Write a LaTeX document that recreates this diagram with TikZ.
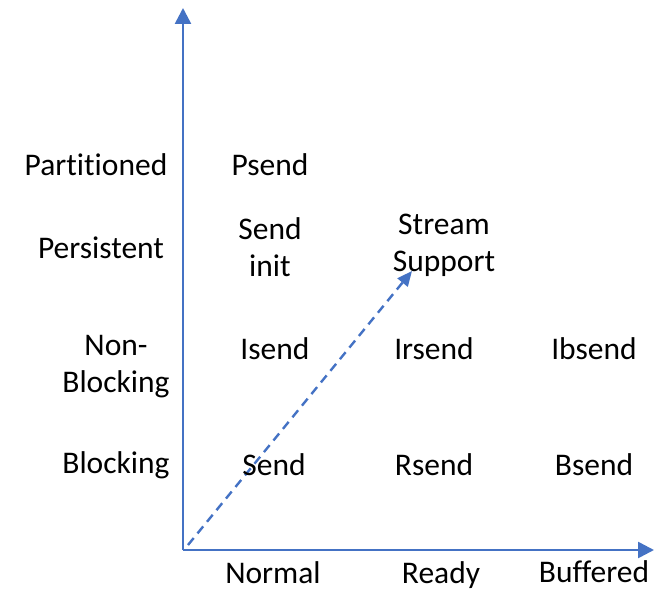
\documentclass[tikz,border=0pt]{standalone}
\usepackage{fontspec}
\setmainfont{Carlito}[Ligatures=NoCommon]
\usetikzlibrary{arrows.meta}
\definecolor{axblue}{HTML}{4472C4}
\begin{document}
\begin{tikzpicture}[x=1pt,y=-1pt,
  lbl/.style={font=\fontsize{31.5}{37}\selectfont, align=center, inner sep=0pt, text=black},
  axis/.style={axblue, line width=2.6pt, -{Triangle[length=16pt,width=16pt]}},
  diag/.style={axblue, line width=2.4pt, dashed, dash pattern=on 9pt off 6pt, -{Triangle[length=15pt,width=13pt]}}]
\useasboundingbox (0,0) rectangle (672,591);
\coordinate (O) at (183,550);
\coordinate (ytop) at (183,8);
\coordinate (xend) at (654,550);
\coordinate (dstart) at (188,545);
\coordinate (dend) at (412,271);
\draw[axis] (O) -- (ytop);
\draw[axis] (O) -- (xend);
\draw[diag] (dstart) -- (dend);
\node[lbl] (partitioned) at (96,165) {Partitioned};
\node[lbl] (persistent) at (101,248) {Persistent};
\node[lbl] (nonblocking) at (116,367) {Non-\\Blocking};
\node[lbl] (blocking) at (116,465) {Blocking};
\node[lbl] (psend) at (270,165) {Psend};
\node[lbl] (sendinit) at (270,247) {Send\\init};
\node[lbl] (stream) at (444,245) {Stream\\Support};
\node[lbl] (isend) at (275,349) {Isend};
\node[lbl] (irsend) at (434,349) {Irsend};
\node[lbl] (ibsend) at (594,349) {Ibsend};
\node[lbl] (send) at (274,465) {Send};
\node[lbl] (rsend) at (434,465) {Rsend};
\node[lbl] (bsend) at (594,465) {Bsend};
\node[lbl] (normal) at (273,573) {Normal};
\node[lbl] (ready) at (441,575) {Ready};
\node[lbl] (buffered) at (594,572) {Buffered};
\end{tikzpicture}
\end{document}
